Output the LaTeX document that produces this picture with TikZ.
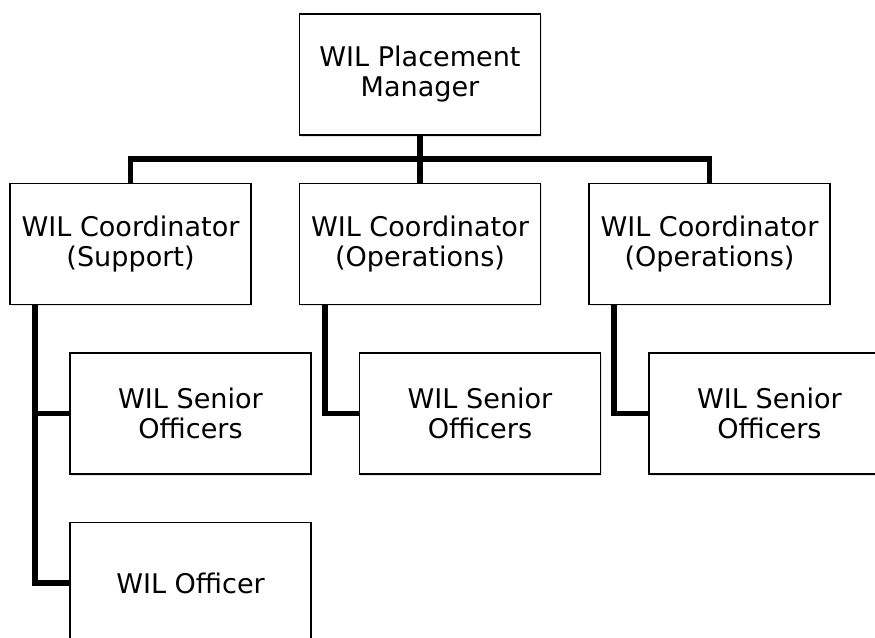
\documentclass[tikz,border=0pt]{standalone}
\usepackage{fontspec}
\setmainfont{DejaVu Sans}
\usetikzlibrary{positioning, shadows}

\begin{document}
\begin{tikzpicture}[
    box/.style={draw, line width=1.1pt, fill=white, minimum width=180.75pt,
      minimum height=90.75pt, inner sep=0pt, align=center,
      font=\fontsize{20.3}{22.5}\selectfont,
      drop shadow={shadow xshift=0.8pt, shadow yshift=-1.2pt, opacity=0.2}},
    ln/.style={line width=4.3pt}]
  \useasboundingbox (0,0) rectangle (656.25pt,-477.75pt);
  % top and coordinators
  \node[box] (mgr) at (315pt,-55.875pt) {WIL Placement\\Manager};
  \node[box, below=35.25pt of mgr] (co2) {WIL Coordinator\\(Operations)};
  \node[box, left=35.25pt of co2] (co1) {WIL Coordinator\\(Support)};
  \node[box, right=35.25pt of co2] (co3) {WIL Coordinator\\(Operations)};
  % officers
  \node[box, anchor=north west] (sen1) at ([shift={(45pt,-35.25pt)}]co1.south west) {WIL Senior\\Officers};
  \node[box, anchor=north west] (sen2) at ([shift={(45pt,-35.25pt)}]co2.south west) {WIL Senior\\Officers};
  \node[box, anchor=north west] (sen3) at ([shift={(45pt,-35.25pt)}]co3.south west) {WIL Senior\\Officers};
  \node[box, below=35.25pt of sen1] (off) {WIL Officer};
  % connectors
  \coordinate[below=17.25pt of mgr.south] (bar);
  \coordinate (l1) at ([xshift=19.5pt]co1.south west);
  \coordinate (l2) at ([xshift=19.5pt]co2.south west);
  \coordinate (l3) at ([xshift=19.5pt]co3.south west);
  \draw[ln] (mgr.south) -- (co2.north);
  \draw[ln] (co1.north) |- (bar) -| (co3.north);
  \draw[ln] (l1) |- (sen1.west);
  \draw[ln] (l1) |- (off.west);
  \draw[ln] (l2) |- (sen2.west);
  \draw[ln] (l3) |- (sen3.west);
\end{tikzpicture}
\end{document}
